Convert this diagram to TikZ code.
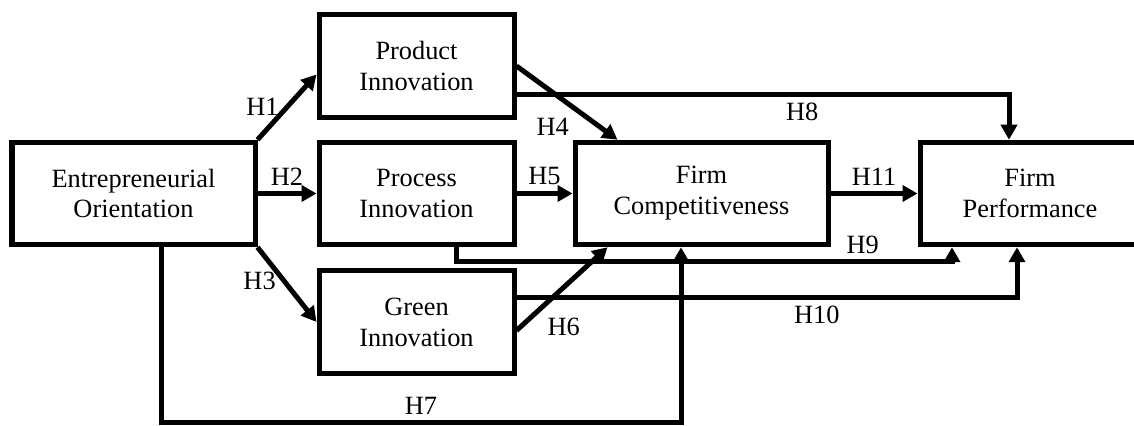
\documentclass[tikz,border=0pt]{standalone}
\usepackage{fontspec}
\setmainfont{Liberation Serif}
\usetikzlibrary{arrows.meta,positioning}

\begin{document}
\begin{tikzpicture}[
  font=\fontsize{15}{17.6}\selectfont,
  box/.style={draw, line width=0.1cm, outer sep=0.05cm, align=center, minimum height=2.05cm, inner sep=0pt},
  arrow/.style={-{Triangle[length=0.3cm, width=0.32cm]}, line width=0.1cm}
]
\useasboundingbox (0,0) rectangle (22.68,-8.52);

\node[box, minimum width=4.86cm] (eo) at (2.67,-3.87) {Entrepreneurial\\Orientation};
\node[box, minimum width=3.9cm, right=1.18cm of eo] (process) {Process\\Innovation};
\node[box, minimum width=3.9cm, above=0.4cm of process] (product) {Product\\Innovation};
\node[box, minimum width=3.9cm, below=0.42cm of process] (green) {Green\\Innovation};
\node[box, minimum width=5.06cm, right=1.12cm of process] (comp) {Firm\\Competitiveness};
\node[box, minimum width=4.4cm, right=1.74cm of comp] (perf) {Firm\\Performance};

% hypotheses H1--H11
\draw[arrow] (eo.north east) -- node[left]{H1} ([yshift=-0.17cm]product.west);
\draw[arrow] (eo.east) -- node[above]{H2} (process.west);
\draw[arrow] (eo.south east) -- node[left, pos=0.45]{H3} (green.west);
\draw[arrow] (product.east) -- node[below left, pos=0.6]{H4} ([xshift=0.9cm]comp.north west);
\draw[arrow] (process.east) -- node[above]{H5} (comp.west);
\draw[arrow] ([yshift=-0.17cm]green.east) -- node[below right, pos=0.25]{H6} ([xshift=0.7cm]comp.south west);
\draw[arrow] ([xshift=0.55cm]eo.south) -- ++(0,-3.51) -| node[above, pos=0.25]{H7} ([xshift=-0.41cm]comp.south);
\draw[arrow] ([yshift=-0.58cm]product.east) -| node[below, pos=0.29]{H8} ([xshift=-0.42cm]perf.north);
\draw[arrow] ([xshift=0.79cm]process.south) -- ++(0,-0.29) -| node[above, pos=0.41]{H9} ([xshift=-1.56cm]perf.south);
\draw[arrow] ([yshift=0.49cm]green.east) -| node[below, pos=0.3]{H10} ([xshift=-0.26cm]perf.south);
\draw[arrow] (comp.east) -- node[above]{H11} (perf.west);
\end{tikzpicture}
\end{document}
